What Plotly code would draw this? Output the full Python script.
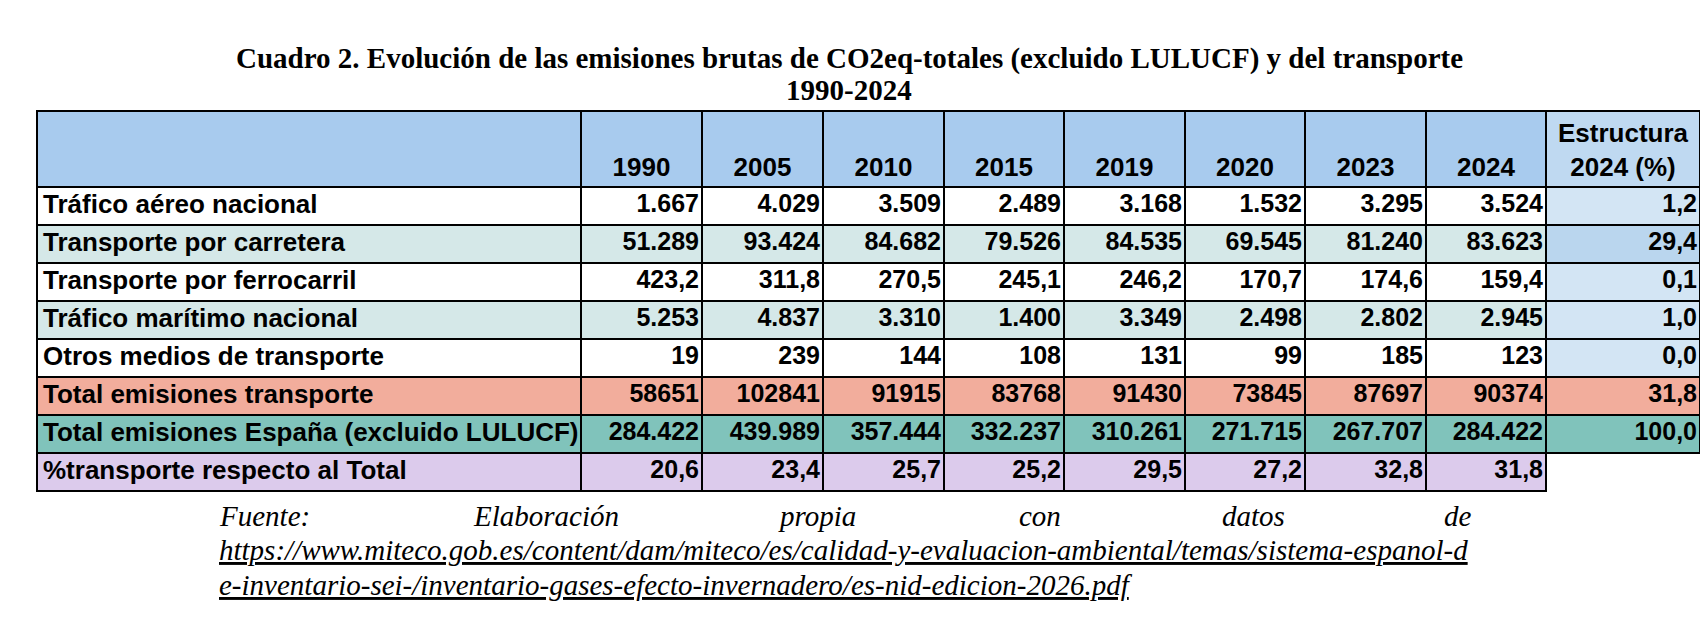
import plotly.graph_objects as go

# ---------------------------------------------------------------------------
# Datos (kt CO2eq)
# ---------------------------------------------------------------------------

YEARS = ["1990", "2005", "2010", "2015", "2019", "2020", "2023", "2024"]

ROW_LABELS = [
    "Tráfico aéreo nacional",
    "Transporte por carretera",
    "Transporte por ferrocarril",
    "Tráfico marítimo nacional",
    "Otros medios de transporte",
    "Total emisiones transporte",
    "Total emisiones España (excluido LULUCF)",
    "%transporte respecto al Total",
]

AEREO = [1667, 4029, 3509, 2489, 3168, 1532, 3295, 3524]
CARRETERA = [51289, 93424, 84682, 79526, 84535, 69545, 81240, 83623]
FERROCARRIL = [423.2, 311.8, 270.5, 245.1, 246.2, 170.7, 174.6, 159.4]
MARITIMO = [5253, 4837, 3310, 1400, 3349, 2498, 2802, 2945]
OTROS = [19, 239, 144, 108, 131, 99, 185, 123]
TOTAL_TRANSPORTE = [58651, 102841, 91915, 83768, 91430, 73845, 87697, 90374]
TOTAL_ESPANA = [284422, 439989, 357444, 332237, 310261, 271715, 267707, 284422]
PCT_TRANSPORTE = [20.6, 23.4, 25.7, 25.2, 29.5, 27.2, 32.8, 31.8]

ESTRUCTURA_2024 = [1.2, 29.4, 0.1, 1.0, 0.0, 31.8, 100.0, None]

TITLE_1 = ("Cuadro 2. Evolución de las emisiones brutas de CO2eq-totales "
           "(excluido LULUCF) y del transporte")
TITLE_2 = "1990-2024"
SOURCE_WORDS = ["Fuente:", "Elaboración", "propia", "con", "datos", "de"]
SOURCE_URL_1 = ("https://www.miteco.gob.es/content/dam/miteco/es/calidad-y-evaluacion-"
                "ambiental/temas/sistema-espanol-d")
SOURCE_URL_2 = "e-inventario-sei-/inventario-gases-efecto-invernadero/es-nid-edicion-2026.pdf"


# ---------------------------------------------------------------------------
# Formato numérico (estilo español)
# ---------------------------------------------------------------------------

def miles(v):
    return f"{v:,.0f}".replace(",", ".")


def coma(v):
    return f"{v:.1f}".replace(".", ",")


def plano(v):
    return f"{v:.0f}"


ROWS = [
    (AEREO, miles),
    (CARRETERA, miles),
    (FERROCARRIL, coma),
    (MARITIMO, miles),
    (OTROS, miles),
    (TOTAL_TRANSPORTE, plano),
    (TOTAL_ESPANA, miles),
    (PCT_TRANSPORTE, coma),
]

# ---------------------------------------------------------------------------
# Colores y geometría de la tabla (en px)
# ---------------------------------------------------------------------------

PALETTE = [
    "#FFFFFF",  # 0 blanco
    "#A8CBEE",  # 1 cabecera
    "#BFD9F1",  # 2 cabecera estructura
    "#D5E8E8",  # 3 fila verdosa
    "#D3E5F4",  # 4 estructura claro
    "#BAD6EE",  # 5 estructura medio
    "#F2AD9C",  # 6 salmón
    "#80C3BB",  # 7 verde azulado
    "#DCCBEC",  # 8 lavanda
]
ROW_COLOR = [0, 3, 0, 3, 0, 6, 7, 8]
ESTR_COLOR = [4, 5, 4, 4, 4, 6, 7, 0]

COL_WIDTHS = [544, 121, 121, 121, 120, 121, 120, 121, 120, 154]
ROW_HEIGHTS = [76] + [38] * len(ROW_LABELS)

W, H = 1708, 624
TABLE_LEFT, TABLE_TOP = 29, 103

x_edges = [0]
for w in COL_WIDTHS:
    x_edges.append(x_edges[-1] + w)
y_edges = [0]
for h in ROW_HEIGHTS:
    y_edges.append(y_edges[-1] + h)
x_mid = [(a + b) / 2 for a, b in zip(x_edges[:-1], x_edges[1:])]
y_mid = [(a + b) / 2 for a, b in zip(y_edges[:-1], y_edges[1:])]

z = [[1] * (len(YEARS) + 1) + [2]]
for i in range(len(ROW_LABELS)):
    z.append([ROW_COLOR[i]] * (len(YEARS) + 1) + [ESTR_COLOR[i]])

n = len(PALETTE) - 1
colorscale = [[k / n, c] for k, c in enumerate(PALETTE)]

fig = go.Figure()
fig.add_trace(go.Heatmap(
    z=z, x=x_edges, y=y_edges,
    colorscale=colorscale, zmin=0, zmax=n, showscale=False,
    xgap=2, ygap=2, hoverinfo="skip",
))

SANS = "Arial, Liberation Sans, sans-serif"
SERIF = "Times New Roman, Liberation Serif, serif"

# etiquetas de fila
fig.add_trace(go.Scatter(
    x=[x_edges[0] + 6] * len(ROW_LABELS), y=y_mid[1:],
    text=[f"<b>{l}</b>" for l in ROW_LABELS],
    mode="text", textposition="middle right",
    textfont=dict(family=SANS, size=26, color="black"),
    hoverinfo="skip", showlegend=False,
))

# valores
vx, vy, vt = [], [], []
for i, (vals, fmt) in enumerate(ROWS):
    for j, v in enumerate(vals):
        vx.append(x_edges[j + 2] - 3)
        vy.append(y_mid[i + 1])
        vt.append(f"<b>{fmt(v)}</b>")
for i, v in enumerate(ESTRUCTURA_2024):
    if v is None:
        continue
    vx.append(x_edges[-1] - 3)
    vy.append(y_mid[i + 1])
    vt.append(f"<b>{coma(v)}</b>")
fig.add_trace(go.Scatter(
    x=vx, y=vy, text=vt, mode="text", textposition="middle left",
    textfont=dict(family=SANS, size=25, color="black"),
    hoverinfo="skip", showlegend=False,
))

# cabecera
head_y = y_edges[0] + 58
fig.add_trace(go.Scatter(
    x=x_mid[1:-1] + [x_mid[-1], x_mid[-1]],
    y=[head_y] * len(YEARS) + [y_edges[0] + 24, head_y],
    text=[f"<b>{y}</b>" for y in YEARS] + ["<b>Estructura</b>", "<b>2024 (%)</b>"],
    mode="text", textposition="middle center",
    textfont=dict(family=SANS, size=26, color="black"),
    hoverinfo="skip", showlegend=False,
))

# la celda vacía de "Estructura" en la última fila no lleva borde
fig.add_shape(type="rect", xref="x", yref="y",
              x0=x_edges[-2] + 1, x1=x_edges[-1] + 4,
              y0=y_edges[-2] + 1, y1=y_edges[-1] + 4,
              fillcolor="white", line_width=0, layer="above")

annotations = [
    dict(text=f"<b>{TITLE_1}</b>", x=841 / W, y=1 - 50 / H, yanchor="middle",
         xanchor="center", font=dict(family=SERIF, size=29, color="black")),
    dict(text=f"<b>{TITLE_2}</b>", x=841 / W, y=1 - 82 / H, yanchor="middle",
         xanchor="center", font=dict(family=SERIF, size=29, color="black")),
]

word_x = [210, 464, 769, 1010, 1213]
for wx, word in zip(word_x, SOURCE_WORDS[:-1]):
    annotations.append(dict(text=f"<i>{word}</i>", x=wx / W, y=1 - 508 / H,
                            xanchor="left", yanchor="middle",
                            font=dict(family=SERIF, size=29, color="black")))
annotations.append(dict(text=f"<i>{SOURCE_WORDS[-1]}</i>", x=1465 / W, y=1 - 508 / H,
                        xanchor="right", yanchor="middle",
                        font=dict(family=SERIF, size=29, color="black")))
for url, my in [(SOURCE_URL_1, 542), (SOURCE_URL_2, 577)]:
    annotations.append(dict(text=f"<i>{url}</i>", x=210 / W, y=1 - my / H,
                            xanchor="left", yanchor="middle",
                            font=dict(family=SERIF, size=29, color="black",
                                      lineposition="under")))
for a in annotations:
    a.update(xref="paper", yref="paper", showarrow=False, borderpad=0)

tw, th = x_edges[-1], y_edges[-1]
fig.update_layout(
    width=W,
    height=H,
    margin=dict(l=0, r=0, t=0, b=0),
    paper_bgcolor="white",
    plot_bgcolor="black",
    showlegend=False,
    annotations=annotations,
    xaxis=dict(visible=False, range=[-1, tw + 1],
               domain=[(TABLE_LEFT - 1) / W, (TABLE_LEFT + tw + 1) / W]),
    yaxis=dict(visible=False, range=[th + 1, -1],
               domain=[1 - (TABLE_TOP + th + 1) / H, 1 - (TABLE_TOP - 1) / H]),
)

fig.write_html("out.html")
